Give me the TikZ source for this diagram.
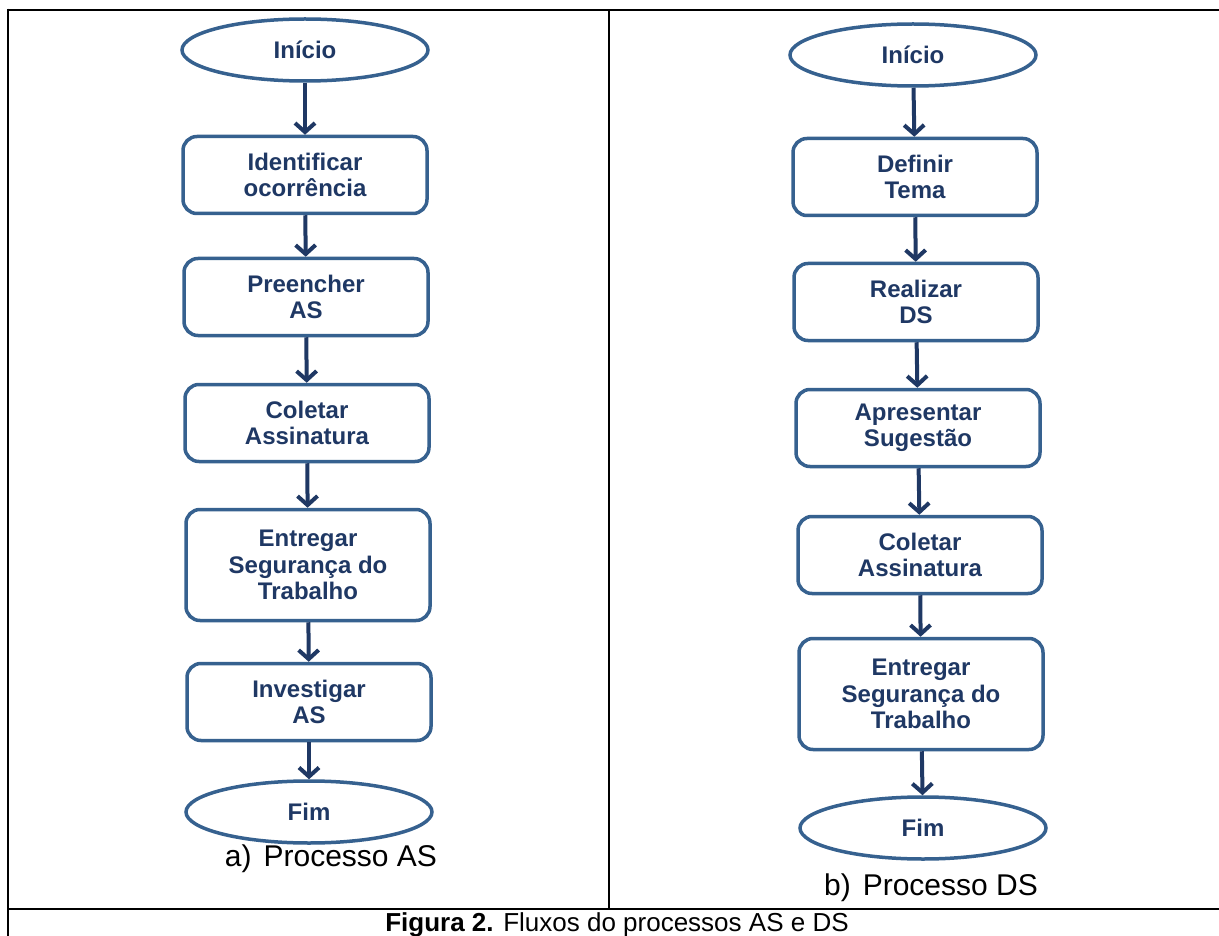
\documentclass[tikz,border=0pt]{standalone}
\usepackage{fontspec}
\setmainfont{Liberation Sans}
\usetikzlibrary{arrows.meta,shapes.geometric}
\definecolor{boxblue}{HTML}{36618F}
\definecolor{navy}{HTML}{1F3864}
\begin{document}
\begin{tikzpicture}[x=1pt,y=-1pt,
    proc/.style={draw=boxblue,line width=3.5pt,rounded corners=14pt,fill=white,
      minimum width=244pt,minimum height=77pt,inner sep=0pt,align=center,
      text=navy,font=\fontsize{24}{26.5}\selectfont\bfseries},
    tall/.style={minimum height=111pt},
    term/.style={ellipse,draw=boxblue,line width=3.5pt,fill=white,inner sep=0pt,
      minimum width=246pt,minimum height=62pt,text=navy,
      font=\fontsize{24}{26.5}\selectfont\bfseries},
    flow/.style={draw=navy,line width=4pt,-{Straight Barb[length=9pt,width=20pt]}},
    frame/.style={line width=2.8pt,black}]
  \useasboundingbox (0,0) rectangle (1219,936);
  % table lines
  \draw[frame] (8,10) -- (1219,10);
  \draw[frame] (8,8.6) -- (8,936);
  \draw[frame] (609,10) -- (609,909);
  \draw[frame] (8,909) -- (1219,909);

  % a) processo AS
  \node[term] (a0) at (305,50) {Início};
  \node[proc] (a1) at (305,175) {Identificar\\ocorrência};
  \node[proc] (a2) at (306,297) {Preencher\\AS};
  \node[proc] (a3) at (307,423) {Coletar\\Assinatura};
  \node[proc,tall] (a4) at (308,565) {Entregar\\Segurança do\\Trabalho};
  \node[proc] (a5) at (309,702) {Investigar\\AS};
  \node[term] (a6) at (309,812) {Fim};
  \foreach \i [count=\j] in {0,...,5}
    \draw[flow] (a\i) -- (a\j);
  \node[font=\fontsize{30}{34}\selectfont] (la) at (331,859) {a)\hspace{12pt}Processo AS};

  % b) processo DS
  \node[term] (b0) at (913,55) {Início};
  \node[proc] (b1) at (915,177) {Definir\\Tema};
  \node[proc] (b2) at (916,302) {Realizar\\DS};
  \node[proc] (b3) at (918,428) {Apresentar\\Sugestão};
  \node[proc] (b4) at (920,555) {Coletar\\Assinatura};
  \node[proc,tall] (b5) at (921,694) {Entregar\\Segurança do\\Trabalho};
  \node[term] (b6) at (923,828) {Fim};
  \foreach \i [count=\j] in {0,...,5}
    \draw[flow] (b\i) -- (b\j);
  \node[font=\fontsize{30}{34}\selectfont] (lb) at (931,888) {b)\hspace{12pt}Processo DS};

  \node[anchor=base,font=\fontsize{26}{30}\selectfont] (cap) at (617,931)
    {\textbf{Figura 2.} Fluxos do processos AS e DS};
\end{tikzpicture}
\end{document}
